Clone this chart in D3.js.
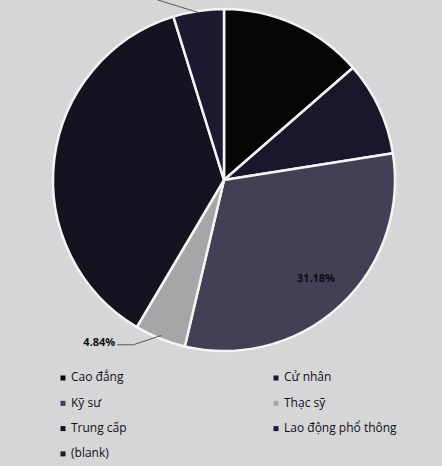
<!DOCTYPE html>
<html><head><meta charset="utf-8">
<script src="https://cdn.jsdelivr.net/npm/d3@7"></script>
<style>html,body{margin:0;padding:0;background:#d6d6d9;}svg{display:block;}</style>
</head><body>
<svg id="chart" width="442" height="466"></svg>
<script>
const categories = ["Cao đẳng","Cử nhân","Kỹ sư","Thạc sỹ","Trung cấp","Lao động phổ thông","(blank)"];
const values = [13.6, 8.9, 31.18, 4.84, 36.7, 4.78, 0];
const labelShown = [false, false, true, true, false, false, false];
const colors = ["#060606","#19172a","#433f55","#a6a6a9","#15131f","#1c1a30","#1a1a1a"];

const svg = d3.select("#chart");
const W = 442, H = 466;
svg.append("rect").attr("width",W).attr("height",H).attr("fill","#d6d6d9");

const cx = 224, cy = 180, R = 171;
const data = categories.map((c,i)=>({cat:c, v:values[i], color:colors[i], show:labelShown[i]}));
const pie = d3.pie().value(d=>d.v).sort(null).startAngle(0).endAngle(2*Math.PI);
const arcs = pie(data);
const arc = d3.arc().innerRadius(0).outerRadius(R);
const g = svg.append("g").attr("transform",`translate(${cx},${cy})`);

g.selectAll("path.slice").data(arcs.filter(a=>a.data.v>0)).join("path")
  .attr("class","slice")
  .attr("d",arc)
  .attr("fill",d=>d.data.color)
  .attr("stroke","#f4f4f4")
  .attr("stroke-width",2.5)
  .attr("stroke-linejoin","round");

function pt(angle, r){ return [r*Math.sin(angle), -r*Math.cos(angle)]; }

arcs.forEach((a,i)=>{
  if(!a.data.show) return;
  const mid = (a.startAngle+a.endAngle)/2;
  const pct = a.data.v.toFixed(2)+"%";
  if(a.endAngle - a.startAngle > 0.5){
    const [x,y] = pt(mid, R*0.79);
    g.append("text").attr("x",x).attr("y",y).attr("text-anchor","middle").attr("dominant-baseline","middle")
      .attr("font-family","Open Sans, sans-serif").attr("font-weight","bold").attr("font-size",11)
      .attr("fill","#0e0d14").text(pct);
  } else {
    const [x0,y0] = pt(mid, R*0.98);
    const [x1,y1] = pt(mid+0.12, R*1.1);
    const x2 = x1-16;
    g.append("path").attr("d",`M${x0},${y0}L${x1},${y1}L${x2},${y1}`)
      .attr("fill","none").attr("stroke","#555").attr("stroke-width",1);
    g.append("text").attr("x",x2-2).attr("y",y1-2).attr("text-anchor","end").attr("dominant-baseline","middle")
      .attr("font-family","Open Sans, sans-serif").attr("font-weight","bold").attr("font-size",11)
      .attr("fill","#111").text(pct);
  }
});

// leader line of the label lying above the picture
{
  const a = arcs[5];
  const mid = (a.startAngle+a.endAngle)/2;
  const [x0,y0] = pt(mid, R*0.99);
  g.append("path").attr("d",`M${x0},${y0}L${x0-44},${y0-R*0.08}`)
    .attr("fill","none").attr("stroke","#555").attr("stroke-width",1);
}

// legend
const legend = svg.append("g");
const colX = [63, 276], rowY0 = 378, rowH = 25.3;
data.forEach((d,i)=>{
  const col = i%2, row = Math.floor(i/2);
  const x = colX[col], y = rowY0 + row*rowH;
  legend.append("rect").attr("x",x-2.5).attr("y",y-2.5).attr("width",5).attr("height",5).attr("fill",d.color);
  legend.append("text").attr("x",x+8).attr("y",y).attr("dominant-baseline","middle")
    .attr("font-family","Open Sans, sans-serif").attr("font-size",12).attr("fill","#111").text(d.cat);
});
</script>
</body></html>
